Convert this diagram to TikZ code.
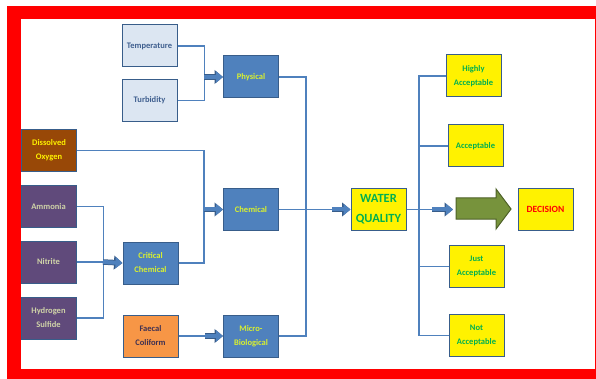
\documentclass[tikz,border=0pt]{standalone}
\usepackage{fontspec}
\setmainfont{Carlito}
\usetikzlibrary{arrows.meta}
\definecolor{frame}{HTML}{FF0000}
\definecolor{boxline}{HTML}{385D8A}
\definecolor{linkblue}{HTML}{4F81BD}
\definecolor{midblue}{HTML}{4F81BD}
\definecolor{paleblue}{HTML}{DCE6F2}
\definecolor{slate}{HTML}{3F5F8F}
\definecolor{lime}{HTML}{D9F02F}
\definecolor{brown}{HTML}{984807}
\definecolor{plum}{HTML}{604A7B}
\definecolor{pale}{HTML}{D0D4A8}
\definecolor{orange}{HTML}{F79646}
\definecolor{darkplum}{HTML}{403152}
\definecolor{good}{HTML}{00B050}
\definecolor{olive}{HTML}{77933C}
\definecolor{darkolive}{HTML}{4F6228}
\begin{document}
\begin{tikzpicture}[x=1pt,y=-1pt,
    box/.style={draw=boxline, line width=1pt, minimum width=55pt, minimum height=42pt,
      inner sep=1pt, align=center, font=\bfseries\fontsize{8.5}{14}\selectfont},
    param/.style={box, fill=paleblue, text=slate},
    group/.style={box, fill=midblue, text=lime},
    ion/.style={box, fill=plum, text=pale},
    grade/.style={box, fill=yellow, text=good},
    link/.style={draw=linkblue, line width=1.3pt},
    fat/.style={draw=midblue, line width=4pt, -{Triangle[length=7pt,width=11pt]},
      preaction={draw=boxline, line width=5.5pt, -{Triangle[length=8.5pt,width=13.5pt]}}}]
  \useasboundingbox (0,0) rectangle (596,379);
  \fill[frame] (7,6) rectangle (596,379);
  \fill[white] (21,19) rectangle (594.5,369);

  \node[param] (temp) at (149.5,46) {Temperature};
  \node[param] (turb) at (149.5,100.5) {Turbidity};
  \node[group] (phys) at (251,77) {Physical};
  \node[box, fill=brown, text=yellow] (dox) at (49,150.5) {Dissolved\\Oxygen};
  \node[ion] (amm) at (48.5,206.5) {Ammonia};
  \node[ion] (nitr) at (48.5,262) {Nitrite};
  \node[ion] (hyd) at (48.5,318) {Hydrogen\\Sulfide};
  \node[group] (crit) at (150.5,263) {Critical\\Chemical};
  \node[group] (chem) at (251,209.5) {Chemical};
  \node[box, fill=orange, text=darkplum] (faec) at (150.5,336) {Faecal\\Coliform};
  \node[group] (micro) at (251,336) {Micro-\\Biological};
  \node[box, fill=yellow, text=good, font=\bfseries\fontsize{12.5}{20}\selectfont] (wq) at (378.5,209.5) {WATER\\QUALITY};
  \node[box, fill=yellow, text=frame, font=\bfseries\fontsize{9.5}{12}\selectfont] (dec) at (545.5,209.5) {DECISION};
  \node[grade] (ha) at (473.5,76) {Highly\\Acceptable};
  \node[grade] (acc) at (475.5,146) {Acceptable};
  \node[grade] (ja) at (476.5,266.5) {Just\\Acceptable};
  \node[grade] (na) at (476.5,335.5) {Not\\Acceptable};

  \coordinate (j1) at (204,77);
  \coordinate (j2) at (204,209.5);
  \coordinate (j3) at (103,262);
  \coordinate (j4) at (332,209.5);
  \coordinate (j5) at (205,336);
  \coordinate (j6) at (432,209.5);
  \coordinate (j7) at (453,209.5);
  \coordinate (spine) at (419,0);

  \draw[link] (temp.east) -- ++(27,0) |- (turb.east);
  \draw[fat] (j1) -- (phys.west);
  \draw[link] (dox.east) -- ++(127,0) |- (crit.east);
  \draw[fat] (j2) -- (chem.west);
  \draw[link] (amm.east) -- ++(27,0) |- (hyd.east);
  \draw[link] (nitr.east) -- (j3);
  \draw[fat] (j3) -- (crit.west);
  \draw[link] (faec.east) -- (j5);
  \draw[fat] (j5) -- (micro.west);
  \draw[link] (phys.east) -- ++(27,0) |- (micro.east);
  \draw[link] (chem.east) -- (j4);
  \draw[fat] (j4) -- (wq.west);
  \draw[link] (wq.east) -- (j6);
  \draw[fat] (j6) -- (j7);
  \draw[link] (ha.west) -- (ha.west -| spine) |- (na.west);
  \draw[link] (acc.west) -- (acc.west -| spine);
  \draw[link] (ja.west) -- (ja.west -| spine);
  \draw[fill=olive, draw=darkolive, line width=1pt] (456,198) -- (496,198) -- (496,189)
    -- (511,209) -- (496,229) -- (496,219) -- (456,219) -- cycle;
\end{tikzpicture}
\end{document}
